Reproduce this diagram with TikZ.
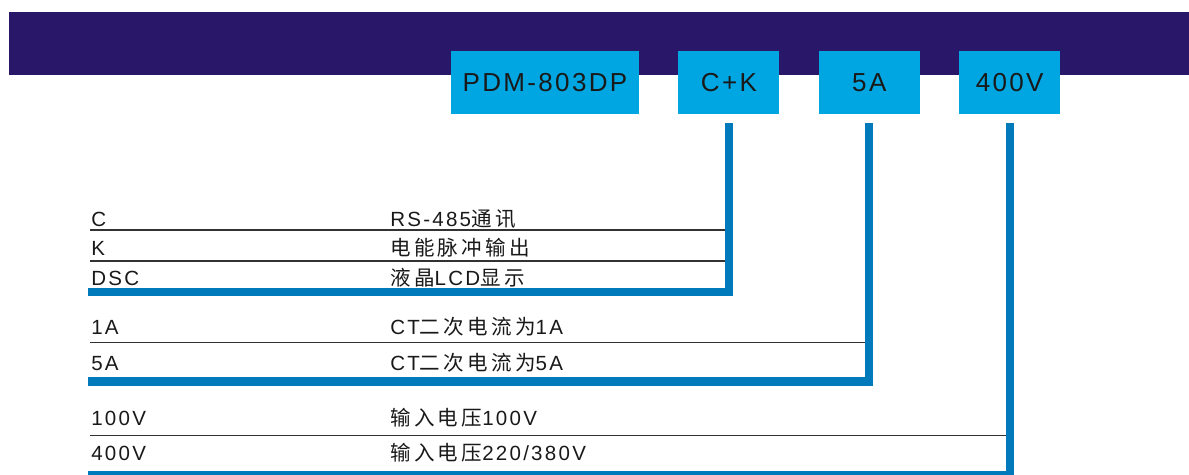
\documentclass[tikz,border=0pt]{standalone}
\usepackage{fontspec}
\setmainfont[LetterSpace=11]{Liberation Sans}
\newfontfamily\cjk[LetterSpace=16]{Noto Sans CJK SC}
\newfontfamily\boxfont[LetterSpace=9]{Liberation Sans}
\usetikzlibrary{positioning}

\definecolor{bandnavy}{RGB}{41,24,106}
\definecolor{boxcyan}{RGB}{0,166,226}
\definecolor{connblue}{RGB}{0,122,187}
\definecolor{rulegray}{RGB}{50,50,50}

\begin{document}
\begin{tikzpicture}[
    x=0.025cm, y=-0.025cm,
    % Model code boxes on the band
    codebox/.style={fill=boxcyan, minimum width=2.525cm, minimum height=1.575cm, inner sep=0pt, font=\boxfont\fontsize{18.5}{20}\selectfont, text=black!90},
    % Text of the option rows
    lbl/.style={anchor=base west, inner sep=0pt, font=\fontsize{14.6}{16}\selectfont, text=black!90},
    % Blue leader lines and thin row rules
    conn/.style={line width=5.7pt, draw=connblue, line join=miter},
    rule/.style={line width=1pt, draw=rulegray}
]
\useasboundingbox (0,0) rectangle (1189,474);

% ===============================
% Header band and code boxes
% ===============================
\fill[bandnavy] (9,12) rectangle (1189,75);

\node[codebox, minimum width=4.7cm] (model) at (545,82.5) {PDM-803DP};
\node[codebox, right=0.97cm of model] (ck) {C+K};
\node[codebox, right=0.97cm of ck] (amp) {5A};
\node[codebox, right=0.97cm of amp] (volt) {400V};

% ===============================
% Group 1: C+K options
% ===============================
\node[lbl] (optC) at (91,226.5) {C};
\node[lbl] (optK) at (91,255.5) {K};
\node[lbl] (optD) at (91,285) {DSC};
\node[lbl] (txtC) at (390,226.5) {RS-485{\cjk 通讯}};
\node[lbl] (txtK) at (390,255.5) {\cjk 电能脉冲输出};
\node[lbl] (txtD) at (390,285) {{\cjk 液晶}LCD{\cjk 显示}};

\coordinate (rC) at (90,230);
\coordinate (rK) at (90,261);
\coordinate (endCK) at (88,292);
\draw[rule] (rC) -- (rC -| ck.south);
\draw[rule] (rK) -- (rK -| ck.south);
\draw[conn] ([yshift=-0.225cm]ck.south) |- (endCK);

% ===============================
% Group 2: current options
% ===============================
\node[lbl] (opt1A) at (91,334) {1A};
\node[lbl] (opt5A) at (91,370) {5A};
\node[lbl] (txt1A) at (390,334) {CT{\cjk 二次电流为}1A};
\node[lbl] (txt5A) at (390,370) {CT{\cjk 二次电流为}5A};

\coordinate (r1A) at (90,342.5);
\coordinate (endAmp) at (88,381.5);
\draw[rule] (r1A) -- (r1A -| amp.south);
\draw[conn] ([yshift=-0.225cm]amp.south) |- (endAmp);

% ===============================
% Group 3: voltage options
% ===============================
\node[lbl] (opt100) at (91,425) {100V};
\node[lbl] (opt400) at (91,460) {400V};
\node[lbl] (txt100) at (390,425) {{\cjk 输入电压}100V};
\node[lbl] (txt400) at (390,460) {{\cjk 输入电压}220/380V};

\coordinate (r100) at (90,435.5);
\coordinate (endVolt) at (88,475);
\draw[rule] (r100) -- (r100 -| volt.south);
\draw[conn] ([yshift=-0.225cm]volt.south) |- (endVolt);

\end{tikzpicture}
\end{document}
